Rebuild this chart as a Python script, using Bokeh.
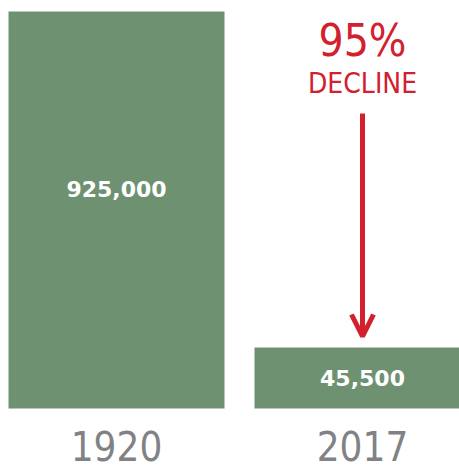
import math
from bokeh.plotting import figure
from bokeh.models import Range1d, Arrow, OpenHead
from bokeh.core.properties import value
from bokeh.embed import file_html
from bokeh.resources import INLINE

# ---- data ----
years = ["1920", "2017"]
counts = [925000, 45500]
count_labels = ["925,000", "45,500"]
headline = "95%"
subhead = "DECLINE"

# ---- layout ----
W, H = 459, 468
GREEN = "#6e9271"
RED = "#d2202e"
GRAY = "#808285"
COND = "'DejaVu Sans Condensed', 'Roboto Condensed', 'Liberation Sans Narrow', 'Noto Sans', sans-serif"
BAR_TOP_PX = 11
BAR_BOTTOM_PX = 408
BASE = 26337  # value at the bars' base on the log scale

log_per_px = (math.log10(counts[0]) - math.log10(BASE)) / (BAR_BOTTOM_PX - BAR_TOP_PX)
top_log = math.log10(counts[0]) + BAR_TOP_PX * log_per_px
bottom_log = top_log - H * log_per_px


def y_at(px):
    return 10 ** (top_log - px * log_per_px)


xs = list(range(len(years)))
px_per_unit = 246
x_start = -116 / px_per_unit
x_end = x_start + W / px_per_unit

p = figure(width=W, height=H, y_axis_type="log",
           x_range=Range1d(x_start, x_end),
           y_range=Range1d(10 ** bottom_log, 10 ** top_log),
           output_backend="svg", toolbar_location=None,
           min_border=0, outline_line_color=None)
p.axis.visible = False
p.grid.visible = False
p.background_fill_color = "white"

p.vbar(x=xs, top=counts, bottom=BASE, width=216 / px_per_unit,
       fill_color=GREEN, line_color=None)

label_px = [188, 377]
p.text(x=xs, y=[y_at(v) for v in label_px], text=count_labels,
       text_align="center", text_baseline="middle",
       text_color="white", text_font=value("DejaVu Sans"),
       text_font_style="bold", text_font_size="22px")

p.text(x=xs, y=[y_at(445)] * 2, text=years,
       text_align="center", text_baseline="middle",
       text_color=GRAY, text_font=value(COND),
       text_font_size="40px")

p.text(x=[1], y=[y_at(40)], text=[headline],
       text_align="center", text_baseline="middle",
       text_color=RED, text_font=value(COND),
       text_font_size="44px")
p.text(x=[1], y=[y_at(83)], text=[subhead],
       text_align="center", text_baseline="middle",
       text_color=RED, text_font=value(COND),
       text_font_size="28px")

p.add_layout(Arrow(x_start=1, y_start=y_at(113), x_end=1, y_end=y_at(336),
                   line_color=RED, line_width=5,
                   end=OpenHead(size=22, line_color=RED, line_width=5)))

open("out.html", "w").write(file_html(p, INLINE))
